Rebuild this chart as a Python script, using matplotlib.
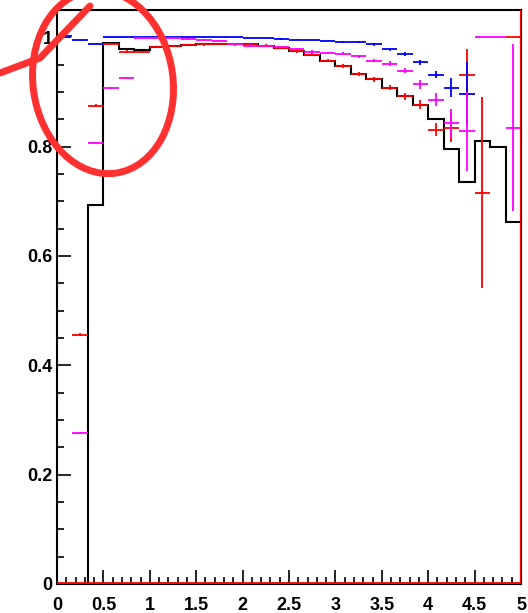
import numpy as np
import matplotlib
matplotlib.use("Agg")
import matplotlib.pyplot as plt
from matplotlib.patches import Ellipse
from matplotlib.ticker import MultipleLocator, FormatStrFormatter

# 30 bins from 0 to 5
edges = np.linspace(0, 5, 31)

hist_black = [0.0, 0.0, 0.694, 0.990, 0.978, 0.977, 0.982, 0.984, 0.986, 0.987,
              0.988, 0.988, 0.987, 0.985, 0.981, 0.975, 0.968, 0.957, 0.948, 0.933,
              0.923, 0.908, 0.892, 0.877, 0.850, 0.795, 0.736, 0.810, 0.799, 0.663]

nan = np.nan
red_val = [nan, 0.456, 0.875, 0.988, 0.974, 0.973, 0.982, 0.984, 0.986, 0.987,
           0.988, 0.988, 0.987, 0.985, 0.981, 0.975, 0.968, 0.957, 0.948, 0.933,
           0.923, 0.908, 0.892, 0.877, 0.831, 0.835, 0.932, 0.716, nan, 1.0]
red_err = [0, 0.003, 0.003, 0.002, 0.002, 0.002, 0.002, 0.002, 0.002, 0.002,
           0.002, 0.002, 0.002, 0.002, 0.002, 0.003, 0.003, 0.003, 0.004, 0.004,
           0.005, 0.005, 0.006, 0.008, 0.012, 0.026, 0.046, 0.175, 0, 0]

mag_val = [nan, 0.276, 0.807, 0.908, 0.925, 0.999, 0.999, 0.998, 0.997, 0.996,
           0.994, 0.987, 0.985, 0.984, 0.982, 0.978, 0.974, 0.971, 0.970, 0.965,
           0.957, 0.952, 0.939, 0.914, 0.886, 0.843, 0.828, 1.0, 1.0, 0.835]
mag_err = [0, 0.002, 0.002, 0.002, 0.002, 0.001, 0.001, 0.001, 0.001, 0.001,
           0.001, 0.002, 0.002, 0.002, 0.002, 0.002, 0.002, 0.002, 0.003, 0.003,
           0.003, 0.004, 0.005, 0.008, 0.012, 0.025, 0.072, 0, 0, 0.153]

blue_val = [1.002, 0.995, 0.988, 1.0, 1.0, 1.0, 1.0, 1.0, 1.0, 1.0,
            1.0, 1.0, 0.999, 0.998, 0.997, 0.996, 0.995, 0.994, 0.992, 0.991,
            0.987, 0.978, 0.969, 0.954, 0.932, 0.908, 0.897, nan, nan, nan]
blue_err = [0.001, 0.001, 0.001, 0.001, 0.001, 0.001, 0.001, 0.001, 0.001, 0.001,
            0.001, 0.001, 0.001, 0.001, 0.001, 0.001, 0.001, 0.001, 0.002, 0.002,
            0.002, 0.003, 0.004, 0.005, 0.007, 0.017, 0.057, 0, 0, 0]

centers = 0.5 * (edges[:-1] + edges[1:])
half_w = 0.5 * np.diff(edges)

fig = plt.figure(figsize=(5.28, 6.13), dpi=100)
ax = fig.add_axes([57 / 528, 29 / 613, 464 / 528, 574 / 613])

ax.stairs(hist_black, edges, color="black", lw=1.5, zorder=2)

for vals, errs, col in [(red_val, red_err, "#ff0000"),
                        (blue_val, blue_err, "#0000ff"),
                        (mag_val, mag_err, "#ff00ff")]:
    ax.errorbar(centers, vals, xerr=half_w, yerr=errs, fmt="none",
                ecolor=col, elinewidth=1.3, capsize=0, zorder=3)

# red line along bottom and right edge
ax.axhline(0.002, color="#ff0000", lw=2, zorder=4)
ax.axvline(4.996, color="#ff0000", lw=1.5, zorder=4)

ax.set_xlim(0, 5)
ax.set_ylim(0, 1.05)
ax.xaxis.set_major_locator(MultipleLocator(0.5))
ax.xaxis.set_minor_locator(MultipleLocator(0.1))
ax.yaxis.set_major_locator(MultipleLocator(0.2))
ax.yaxis.set_minor_locator(MultipleLocator(0.05))
ax.xaxis.set_major_formatter(FormatStrFormatter("%g"))
ax.yaxis.set_major_formatter(FormatStrFormatter("%g"))
ax.tick_params(which="both", direction="in", top=False, right=False, width=1.2)
ax.tick_params(which="major", length=10)
ax.tick_params(which="minor", length=5)
ax.tick_params(axis="x", pad=9)
ax.tick_params(axis="y", pad=3)
for lab in ax.get_xticklabels() + ax.get_yticklabels():
    lab.set_fontweight("bold")
    lab.set_fontsize(13)
    lab.set_family("Liberation Sans")
for s in ax.spines.values():
    s.set_linewidth(1.5)

# hand drawn red circle on top
ov = fig.add_axes([0, 0, 1, 1], facecolor="none")
ov.set_xlim(0, 528)
ov.set_ylim(613, 0)
ov.axis("off")
ov.add_patch(Ellipse((103, 82), 140, 184, angle=-8, fill=False,
                     edgecolor="#ff3030", lw=5))
ov.plot([0, 40, 90], [73, 58, 6], color="#ff3030", lw=5,
        solid_capstyle="round", solid_joinstyle="round")

fig.savefig("out.png", dpi=100)
